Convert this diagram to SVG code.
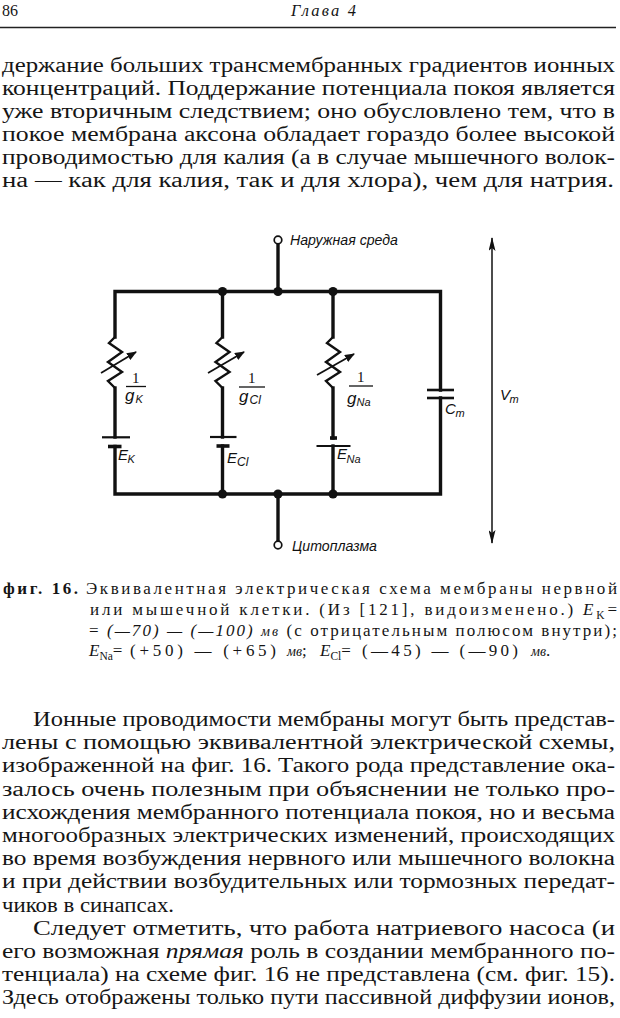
<svg xmlns="http://www.w3.org/2000/svg" width="620" height="1018" viewBox="0 0 620 1018">
<defs>
<style>
.bg{fill:#ffffff}
.w{stroke:#111;stroke-width:3.4;fill:none;stroke-linecap:square;stroke-linejoin:miter}
.z{stroke:#111;stroke-width:2.4;fill:none;stroke-linejoin:miter}
.ar{stroke:#111;stroke-width:1.8;fill:none}
.pl{stroke:#111;stroke-width:2.2;fill:none}
.pt{stroke:#111;stroke-width:3.6;fill:none}
.fb{stroke:#111;stroke-width:1.3}
.dot{fill:#111}
.term{fill:#fff;stroke:#111;stroke-width:1.7}
.t{font-family:"Liberation Serif",serif;font-size:20.5px;fill:#151515}
.cap{font-family:"Liberation Serif",serif;font-size:17px;fill:#151515}
.it{font-style:italic}
.lb{font-family:"Liberation Sans",sans-serif;font-style:italic;fill:#111}
.one{font-family:"Liberation Serif",serif;font-size:15px;fill:#111}
</style>
<marker id="ah" viewBox="0 0 10 8" refX="9" refY="4" markerWidth="10" markerHeight="8" markerUnits="userSpaceOnUse" orient="auto">
<path d="M0,0 L10,4 L0,8 z" fill="#111"/>
</marker>
<marker id="vh" viewBox="0 0 14 7" refX="13" refY="3.5" markerWidth="14" markerHeight="7" markerUnits="userSpaceOnUse" orient="auto-start-reverse">
<path d="M0,0 L14,3.5 L0,7 L3,3.5 z" fill="#111"/>
</marker>
</defs>
<rect class="bg" x="0" y="0" width="620" height="1018"/>

<g id="header">
<text class="t" x="2" y="16" style="font-size:16px">86</text>
<text class="t it" x="291" y="16" style="font-size:16.5px" textLength="65" lengthAdjust="spacing">Глава 4</text>
<line x1="0" y1="27.5" x2="616" y2="27.5" stroke="#222" stroke-width="1.3"/>
</g>

<g id="paragraph-1">
<text class="t" x="2" y="72" textLength="613" lengthAdjust="spacingAndGlyphs">держание больших трансмембранных градиентов ионных</text>
<text class="t" x="2" y="94.9" textLength="613" lengthAdjust="spacingAndGlyphs">концентраций. Поддержание потенциала покоя является</text>
<text class="t" x="2" y="117.8" textLength="613" lengthAdjust="spacingAndGlyphs">уже вторичным следствием; оно обусловлено тем, что в</text>
<text class="t" x="2" y="140.7" textLength="613" lengthAdjust="spacingAndGlyphs">покое мембрана аксона обладает гораздо более высокой</text>
<text class="t" x="2" y="163.6" textLength="613" lengthAdjust="spacingAndGlyphs">проводимостью для калия (а в случае мышечного волок-</text>
<text class="t" x="2" y="186.5" textLength="612" lengthAdjust="spacingAndGlyphs">на — как для калия, так и для хлора), чем для натрия.</text>
</g>

<g id="connectors">
<path class="w" d="M115,337 V291.5 H440.5 V390"/>
<path class="w" d="M115,388 V437"/>
<path class="w" d="M115,446.5 V494 H440.5 V398"/>
<path class="w" d="M222.5,291.5 V337"/>
<path class="w" d="M222.5,388 V437"/>
<path class="w" d="M222.5,446 V494"/>
<path class="w" d="M333,291.5 V337"/>
<path class="w" d="M333,388 V438"/>
<path class="w" d="M333,446 V494"/>
<path class="w" d="M278,244 V291.5"/>
<path class="w" d="M278,494 V541"/>
</g>

<g id="junctions">
<circle class="dot" cx="222.5" cy="291.5" r="4.6"/>
<circle class="dot" cx="278" cy="291.5" r="4.6"/>
<circle class="dot" cx="333" cy="291.5" r="4.6"/>
<circle class="dot" cx="222.5" cy="494" r="4.6"/>
<circle class="dot" cx="278" cy="494" r="4.6"/>
<circle class="dot" cx="333" cy="494" r="4.6"/>
</g>

<g id="terminal-outside">
<circle class="term" cx="278" cy="240" r="3.8"/>
<text class="lb" x="290" y="245" style="font-size:14px" textLength="108" lengthAdjust="spacingAndGlyphs">Наружная среда</text>
</g>

<g id="terminal-inside">
<circle class="term" cx="278" cy="545" r="3.8"/>
<text class="lb" x="292" y="551" style="font-size:14px" textLength="85" lengthAdjust="spacingAndGlyphs">Цитоплазма</text>
</g>

<g id="resistor-K">
<path class="z" d="M115,337 l-6,6 l13,9 l-14,10 l14,10 l-14,9 l7,7"/>
<line class="ar" x1="101" y1="373" x2="136" y2="352" marker-end="url(#ah)"/>
<text class="one" x="132" y="383">1</text>
<line class="fb" x1="126" y1="386.5" x2="146" y2="386.5"/>
<text class="lb" x="125" y="401" style="font-size:17px">g</text>
<text class="lb" x="135.5" y="403" style="font-size:11px">K</text>
</g>

<g id="battery-K">
<line class="pl" x1="102" y1="437.3" x2="130" y2="437.3"/>
<line class="pt" x1="108" y1="446.5" x2="121.5" y2="446.5"/>
<text class="lb" x="118" y="460" style="font-size:15px">E</text>
<text class="lb" x="127.5" y="462.5" style="font-size:11px">K</text>
</g>

<g id="resistor-Cl">
<path class="z" d="M222.5,337 l-6,6 l13,9 l-14,10 l14,10 l-14,9 l7,7"/>
<line class="ar" x1="208" y1="373" x2="244" y2="352" marker-end="url(#ah)"/>
<text class="one" x="248" y="383">1</text>
<line class="fb" x1="239" y1="387" x2="265" y2="387"/>
<text class="lb" x="239" y="402" style="font-size:17px">g</text>
<text class="lb" x="249.5" y="404" style="font-size:12px">Cl</text>
</g>

<g id="battery-Cl">
<line class="pl" x1="210" y1="437" x2="236.5" y2="437"/>
<line class="pt" x1="216.5" y1="446" x2="229.5" y2="446"/>
<text class="lb" x="227" y="463" style="font-size:15px">E</text>
<text class="lb" x="237" y="466" style="font-size:12px">Cl</text>
</g>

<g id="resistor-Na">
<path class="z" d="M333,337 l-6,6 l13,9 l-14,10 l14,10 l-14,9 l7,7"/>
<line class="ar" x1="317" y1="375" x2="354" y2="354" marker-end="url(#ah)"/>
<text class="one" x="357" y="382">1</text>
<line class="fb" x1="349" y1="386" x2="373" y2="386"/>
<text class="lb" x="347" y="404" style="font-size:17px">g</text>
<text class="lb" x="356.5" y="406" style="font-size:11px">Na</text>
</g>

<g id="battery-Na">
<line class="pt" x1="330" y1="438" x2="337" y2="438"/>
<line class="pl" x1="316.5" y1="446" x2="350.5" y2="446"/>
<text class="lb" x="337" y="459" style="font-size:15px">E</text>
<text class="lb" x="346.5" y="462.5" style="font-size:11px">Na</text>
</g>

<g id="capacitor-Cm">
<line class="pl" x1="427" y1="390" x2="454" y2="390" style="stroke-width:2.6"/>
<line class="pl" x1="427" y1="398" x2="454" y2="398" style="stroke-width:2.6"/>
<text class="lb" x="445" y="414" style="font-size:15px">C</text>
<text class="lb" x="455.5" y="417" style="font-size:11px">m</text>
</g>

<g id="voltage-Vm">
<line x1="492" y1="238" x2="492" y2="543" stroke="#111" stroke-width="1.5" marker-start="url(#vh)" marker-end="url(#vh)"/>
<text class="lb" x="500" y="400" style="font-size:15px">V</text>
<text class="lb" x="509.5" y="403" style="font-size:11px">m</text>
</g>

<g id="caption">
<text class="cap" x="3" y="594" style="font-weight:bold" textLength="75" lengthAdjust="spacing">фиг. 16.</text>
<text class="cap" x="86" y="594" textLength="531" lengthAdjust="spacing">Эквивалентная электрическая схема мембраны нервной</text>
<text class="cap" x="90" y="615" textLength="527" lengthAdjust="spacing">или мышечной клетки. (Из [121], видоизменено.) <tspan class="it">E</tspan><tspan dy="4" style="font-size:11.5px">K</tspan><tspan dy="-4">=</tspan></text>
<text class="cap" x="89" y="635.5" textLength="528" lengthAdjust="spacing">= <tspan class="it">(—70) — (—100)</tspan> <tspan class="it" style="font-size:14px">мв</tspan> (с отрицательным полюсом внутри);</text>
<text class="cap" x="89" y="656"><tspan class="it">E</tspan><tspan dy="4" style="font-size:11.5px">Na</tspan><tspan dy="-4">=</tspan></text>
<text class="cap" x="130" y="656" textLength="146" lengthAdjust="spacing">(+50) — (+65)</text>
<text class="cap" x="287" y="656"><tspan class="it" style="font-size:14px">мв</tspan>;</text>
<text class="cap" x="320" y="656"><tspan class="it">E</tspan><tspan dy="4" style="font-size:11.5px">Cl</tspan><tspan dy="-4">=</tspan></text>
<text class="cap" x="362" y="656" textLength="156" lengthAdjust="spacing">(—45) — (—90)</text>
<text class="cap" x="531" y="656"><tspan class="it" style="font-size:14px">мв</tspan>.</text>
</g>

<g id="paragraph-2">
<text class="t" x="33" y="726" textLength="582" lengthAdjust="spacingAndGlyphs">Ионные проводимости мембраны могут быть представ-</text>
<text class="t" x="2" y="749.2" textLength="613" lengthAdjust="spacingAndGlyphs">лены с помощью эквивалентной электрической схемы,</text>
<text class="t" x="2" y="772.4" textLength="613" lengthAdjust="spacingAndGlyphs">изображенной на фиг. 16. Такого рода представление ока-</text>
<text class="t" x="2" y="795.6" textLength="613" lengthAdjust="spacingAndGlyphs">залось очень полезным при объяснении не только про-</text>
<text class="t" x="2" y="818.8" textLength="613" lengthAdjust="spacingAndGlyphs">исхождения мембранного потенциала покоя, но и весьма</text>
<text class="t" x="2" y="842" textLength="613" lengthAdjust="spacingAndGlyphs">многообразных электрических изменений, происходящих</text>
<text class="t" x="2" y="865.2" textLength="613" lengthAdjust="spacingAndGlyphs">во время возбуждения нервного или мышечного волокна</text>
<text class="t" x="2" y="888.4" textLength="613" lengthAdjust="spacingAndGlyphs">и при действии возбудительных или тормозных передат-</text>
<text class="t" x="2" y="911.6" textLength="172" lengthAdjust="spacingAndGlyphs">чиков в синапсах.</text>
</g>

<g id="paragraph-3">
<text class="t" x="33" y="934.8" textLength="582" lengthAdjust="spacingAndGlyphs">Следует отметить, что работа натриевого насоса (и</text>
<text class="t" x="2" y="958" textLength="613" lengthAdjust="spacingAndGlyphs">его возможная <tspan class="it">прямая</tspan> роль в создании мембранного по-</text>
<text class="t" x="2" y="981.2" textLength="613" lengthAdjust="spacingAndGlyphs">тенциала) на схеме фиг. 16 не представлена (см. фиг. 15).</text>
<text class="t" x="2" y="1004.4" textLength="613" lengthAdjust="spacingAndGlyphs">Здесь отображены только пути пассивной диффузии ионов,</text>
</g>
</svg>
